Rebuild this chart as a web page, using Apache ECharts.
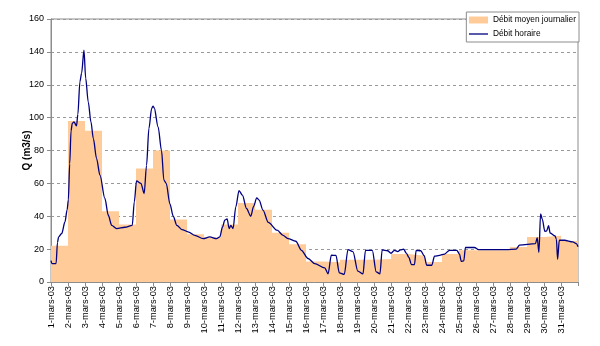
<!DOCTYPE html>
<html>
<head>
<meta charset="utf-8">
<script src="https://cdn.jsdelivr.net/npm/echarts@6/dist/echarts.min.js"></script>
<style>html,body{margin:0;padding:0;background:#fff}#c{width:600px;height:346px}</style>
</head>
<body>
<div id="c"></div>
<script>
// Day labels (one per day, starting at 1-mars-03)
var dayLabels = ['1-mars-03','2-mars-03','3-mars-03','4-mars-03','5-mars-03','6-mars-03','7-mars-03','8-mars-03','9-mars-03','10-mars-03','11-mars-03','12-mars-03','13-mars-03','14-mars-03','15-mars-03','16-mars-03','17-mars-03','18-mars-03','19-mars-03','20-mars-03','21-mars-03','22-mars-03','23-mars-03','24-mars-03','25-mars-03','26-mars-03','27-mars-03','28-mars-03','29-mars-03','30-mars-03','31-mars-03'];
// Daily mean discharge (m3/s)
var dailyMean = [22, 98, 92, 43, 35, 69, 80, 38, 29, 27, 35, 48, 44, 30, 23, 12.5, 12, 13.6, 13.6, 14, 17, 16, 12.2, 17, 19.3, 19.3, 19.3, 21.3, 27.4, 28.2, 25];
// Hourly discharge: [day offset from 1-mars 00h, value]
var hourly = [[0,13],[0.05,11.2],[0.3,11.2],[0.38,24],[0.45,27.5],[0.63,29.5],[0.82,36.5],[0.95,44],[1.02,50],[1.1,72],[1.18,92],[1.25,96.5],[1.35,97.4],[1.5,95],[1.58,102],[1.7,121.8],[1.8,127],[1.94,141],[2.04,124],[2.19,109.6],[2.35,97.4],[2.49,87.3],[2.68,75.1],[2.88,65],[3.17,50.8],[3.37,40.6],[3.57,34.5],[3.86,32.5],[4.35,33.3],[4.78,34.5],[4.9,48.7],[5.03,61.5],[5.29,60],[5.48,53.8],[5.62,71],[5.76,93.4],[5.92,105.6],[6.0,107],[6.07,106],[6.3,94.4],[6.5,80],[6.64,62],[6.78,60],[6.99,47.7],[7.19,40],[7.4,34.5],[7.7,31.9],[8.1,30.4],[8.46,28.4],[8.95,26.4],[9.34,27.4],[9.74,26.4],[9.93,27.4],[10.09,33.5],[10.22,37.6],[10.36,38.4],[10.48,32.5],[10.58,34.5],[10.71,32.5],[10.87,45.7],[11.06,55.6],[11.26,52.8],[11.5,44.7],[11.75,40],[11.92,46],[12.1,51.2],[12.24,49.8],[12.47,43.7],[12.78,36.3],[13.3,31.5],[13.65,28.4],[13.94,26.4],[14.4,24.8],[14.73,19.3],[15.12,14.3],[15.51,11.2],[16.1,8.6],[16.3,5],[16.49,16.3],[16.76,16.2],[16.96,5.6],[17.25,4.6],[17.47,19.7],[17.76,18.5],[18.05,6.6],[18.35,4.9],[18.5,19.3],[18.9,19.3],[19.13,6.1],[19.35,5],[19.48,19.5],[19.8,19],[20.0,17.5],[20.2,19.3],[20.4,18.5],[20.55,19.5],[20.74,20],[20.9,17.6],[21.05,15],[21.2,10.6],[21.38,10.6],[21.48,19.3],[21.75,19],[21.95,16],[22.1,10.2],[22.4,10.2],[22.56,15.7],[22.85,16.2],[23.15,17],[23.44,19.3],[23.87,19.3],[24.03,17],[24.13,12.6],[24.28,12.8],[24.38,21],[24.91,21],[25.15,19.7],[26.8,19.7],[27.36,20],[27.56,22.4],[28.5,23.3],[28.6,27],[28.7,18],[28.8,41.5],[28.9,38.2],[29.05,30.8],[29.15,31],[29.27,34.3],[29.36,29.8],[29.65,28],[29.73,26],[29.8,13.8],[29.9,25.4],[30.2,25.4],[30.69,24.4],[30.9,23.3],[31.0,21.5]];
var yTicks = {min: 0, max: 160, interval: 20};

var dailyData = dailyMean.map(function (v, i) { return [i, v]; });
dailyData.push([dailyMean.length, dailyMean[dailyMean.length - 1]]);

var chart = echarts.init(document.getElementById('c'), null, {renderer: 'canvas'});
var FONT = 'Liberation Sans, Arial, sans-serif';
chart.setOption({
  animation: false,
  backgroundColor: '#fff',
  textStyle: {fontFamily: FONT},
  grid: {left: 51, right: 22, top: 19, bottom: 64, show: true, borderColor: '#8c8c8c', borderWidth: 1, backgroundColor: '#fff', containLabel: false},
  legend: {
    orient: 'vertical', right: 21, top: 12,
    backgroundColor: '#fff', borderColor: '#8c8c8c', borderWidth: 1,
    padding: [4, 3, 4, 2], itemGap: 6, itemWidth: 19, itemHeight: 7,
    textStyle: {fontSize: 8.3, color: '#000', fontFamily: FONT},
    data: [
      {name: 'Débit moyen journalier', icon: 'rect', itemStyle: {color: '#FFCC99'}},
      {name: 'Débit horaire', itemStyle: {opacity: 0}, lineStyle: {color: '#000080', width: 1.3}}
    ]
  },
  xAxis: {
    type: 'value', min: 0, max: dayLabels.length, interval: 1,
    axisLine: {lineStyle: {color: '#8c8c8c'}},
    axisTick: {length: 4, lineStyle: {color: '#8c8c8c'}},
    splitLine: {show: false},
    axisLabel: {
      rotate: 90, fontSize: 9.3, color: '#000', margin: 4, fontFamily: FONT,
      formatter: function (v) { return dayLabels[v] || ''; }
    }
  },
  yAxis: {
    type: 'value', min: yTicks.min, max: yTicks.max, interval: yTicks.interval,
    name: 'Q (m3/s)', nameLocation: 'middle', nameGap: 19, nameRotate: 90,
    nameMoveOverlap: false,
    nameTextStyle: {fontSize: 10, fontWeight: 'bold', color: '#000', fontFamily: FONT},
    axisLine: {show: true, lineStyle: {color: '#8c8c8c'}},
    axisTick: {show: true, length: 4, lineStyle: {color: '#8c8c8c'}},
    axisLabel: {fontSize: 9, color: '#000', margin: 7, fontFamily: FONT},
    splitLine: {lineStyle: {color: '#999', type: [3, 3], width: 1}}
  },
  series: [
    {
      name: 'Débit moyen journalier', type: 'line', step: 'end',
      data: dailyData, symbol: 'none',
      lineStyle: {width: 0, color: '#FFCC99'},
      itemStyle: {color: '#FFCC99'},
      areaStyle: {color: '#FFCC99', opacity: 1},
      z: 1
    },
    {
      name: 'Débit horaire', type: 'line', data: hourly, symbol: 'none',
      smooth: 0.3, smoothMonotone: 'x',
      lineStyle: {color: '#000080', width: 1.3},
      itemStyle: {color: '#000080'},
      z: 3
    }
  ]
});
</script>
</body>
</html>
